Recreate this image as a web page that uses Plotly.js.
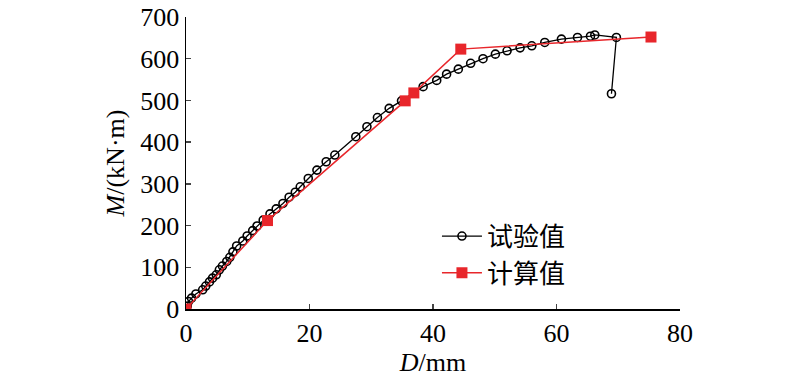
<!DOCTYPE html>
<html>
<head>
<meta charset="utf-8">
<script src="https://cdn.plot.ly/plotly-3.0.1.min.js"></script>
<style>html,body{margin:0;padding:0;background:#fff;}#chart{width:800px;height:382px;}</style>
</head>
<body>
<div id="chart"></div>
<script>
// 试验值 (test values)
const testD = [0, 0.2, 0.4, 0.9, 1.6, 2.7, 3.2, 3.8, 4.3, 4.9, 5.4, 5.9, 6.6, 7.1, 7.6, 8.2, 9.2, 9.9, 10.8, 11.5, 12.5, 13.6, 14.6, 15.7, 16.7, 17.7, 18.5, 19.8, 21.2, 22.7, 24.1, 27.5, 29.3, 31.0, 32.9, 34.9, 38.4, 40.6, 42.2, 44.1, 46.1, 48.1, 50.1, 52.0, 54.1, 56.0, 58.1, 60.8, 63.4, 65.5, 66.2, 69.7, 68.9];
const testM = [0, 7, 18, 26, 36, 46, 55, 65, 74, 82, 94, 103, 114, 124, 137, 151, 163, 175, 188, 199, 213, 228, 240, 253, 268, 280, 293, 313, 333, 353, 369, 413, 437, 459, 481, 499, 533, 548, 563, 575, 589, 600, 611, 619, 626, 631, 639, 647, 651, 654, 657, 651, 516];
// 计算值 (calculated values)
const calcD = [0, 13.2, 35.5, 36.9, 44.5, 75.3];
const calcM = [0, 212, 499, 518, 623, 652];
const xTicks = [0, 20, 40, 60, 80];
const yTicks = [0, 100, 200, 300, 400, 500, 600, 700];

const serif = "Liberation Serif, Times New Roman, serif";
const traces = [
  {x: testD, y: testM, name: "试验值", mode: "lines+markers",
   line: {color: "#000", width: 1.3},
   marker: {symbol: "circle-open", size: 8, color: "#000", line: {width: 1.6, color: "#000"}}},
  {x: calcD, y: calcM, name: "计算值", mode: "lines+markers",
   line: {color: "#e8262b", width: 1.5},
   marker: {symbol: "square", size: 11, color: "#e8262b"}}
];
const layout = {
  width: 800, height: 382,
  margin: {l: 186, r: 120, t: 17, b: 73},
  paper_bgcolor: "#fff", plot_bgcolor: "#fff",
  showlegend: true,
  legend: {x: 0.508, y: 0.33, xanchor: "left", yanchor: "top", bgcolor: "rgba(0,0,0,0)",
           font: {family: "Noto Sans CJK SC", size: 26, color: "#000"}, itemwidth: 40, tracegroupgap: 0},
  xaxis: {range: [0, 80], tickvals: xTicks, ticktext: xTicks.map(String), ticks: "inside", ticklen: 5, tickwidth: 1.5,
          showline: true, linewidth: 1.5, linecolor: "#000", showgrid: false, zeroline: false,
          tickfont: {family: serif, size: 26, color: "#000"},
          title: {text: "<i>D</i>/mm", font: {family: serif, size: 26, color: "#000"}, standoff: 4}},
  yaxis: {range: [0, 700], tickvals: yTicks, ticktext: yTicks.map(String), ticks: "inside", ticklen: 5, tickwidth: 1.5,
          showline: true, linewidth: 1.5, linecolor: "#000", showgrid: false, zeroline: false,
          tickfont: {family: serif, size: 26, color: "#000"},
          title: {text: "<i>M</i>/(kN·m)", font: {family: serif, size: 26, color: "#000"}, standoff: 8}}
};
Plotly.newPlot("chart", traces, layout, {displayModeBar: false, staticPlot: true});
</script>
</body>
</html>
